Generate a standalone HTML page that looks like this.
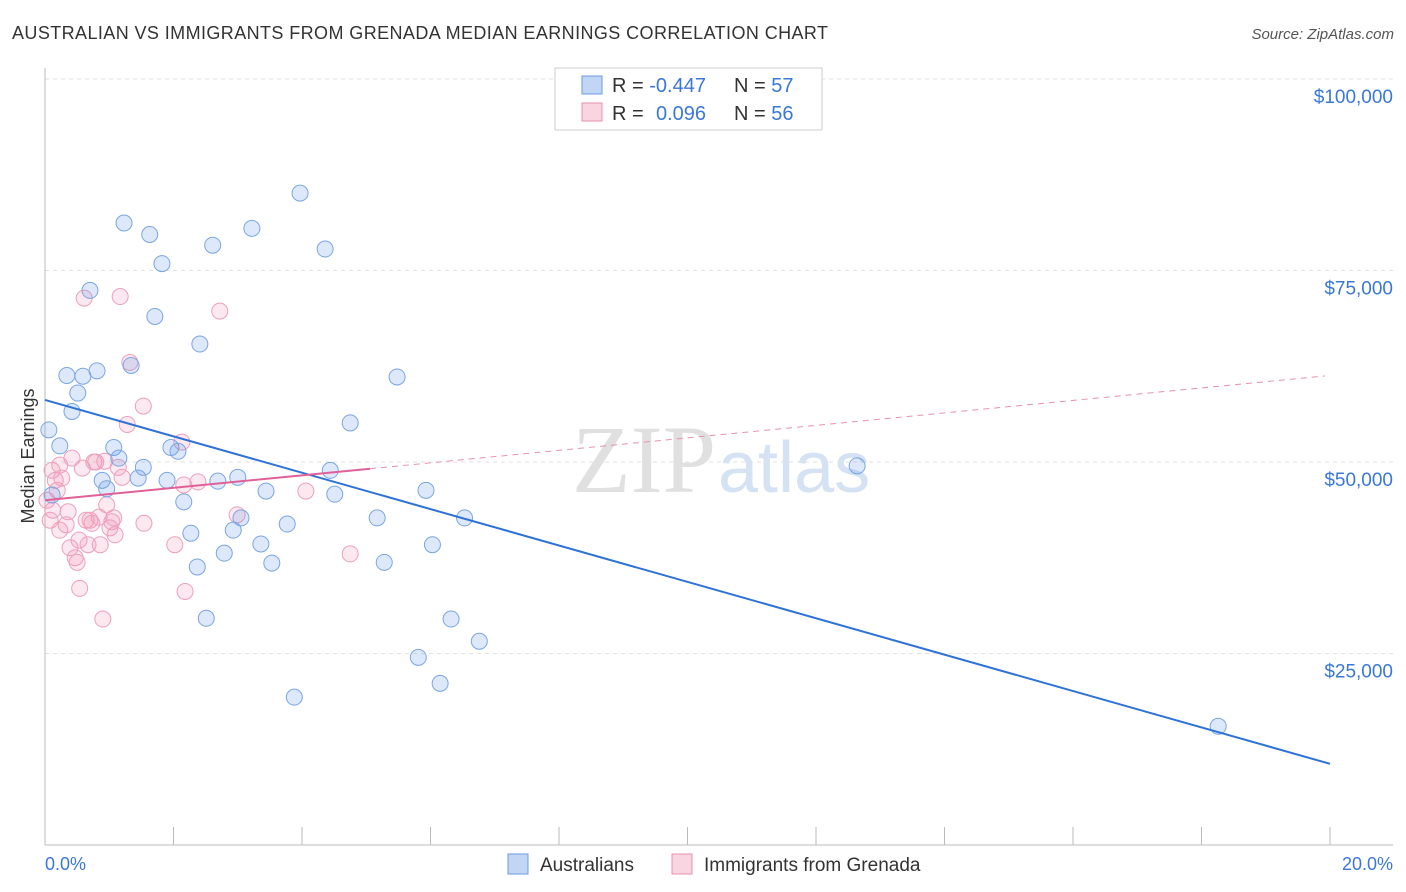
<!DOCTYPE html>
<html><head><meta charset="utf-8"><style>
body{margin:0;background:#fff;font-family:"Liberation Sans",sans-serif;}
svg{display:block}
</style></head><body>
<svg width="1406" height="892" viewBox="0 0 1406 892">
<text x="12" y="39" font-size="18" fill="#333" textLength="816">AUSTRALIAN VS IMMIGRANTS FROM GRENADA MEDIAN EARNINGS CORRELATION CHART</text>
<text x="1394" y="39" font-size="15" fill="#555" font-style="italic" text-anchor="end">Source: ZipAtlas.com</text>
<g id="grid"></g>
<text x="716" y="492" font-size="96" fill="#e0e0e0" text-anchor="end" font-family="Liberation Serif,serif">ZIP</text>
<text x="718" y="492" font-size="72" fill="#d4e2f3">atlas</text>
<g id="axes"></g>
<g id="pts"></g>
<g id="lines"></g>
<text x="34" y="456" font-size="18" fill="#333" text-anchor="middle" transform="rotate(-90 34 456)">Median Earnings</text>
<text x="45" y="870" font-size="18" fill="#3a78d8">0.0%</text>
<text x="1393" y="870" font-size="18" fill="#3a78d8" text-anchor="end">20.0%</text>
<g>
<rect x="555" y="68" width="267" height="62" fill="#fff" stroke="#ccc"/>
<rect x="582" y="76" width="20" height="18" fill="rgba(100,150,230,0.4)" stroke="#6a9de0"/>
<rect x="582" y="103" width="20" height="18" fill="rgba(240,150,180,0.4)" stroke="#e890b0"/>
<text x="612" y="92" font-size="20" fill="#333">R = <tspan fill="#3a78d8">-0.447</tspan><tspan x="734">N = </tspan><tspan fill="#3a78d8">57</tspan></text>
<text x="612" y="120" font-size="20" fill="#333">R = <tspan fill="#3a78d8" x="656">0.096</tspan><tspan x="734">N = </tspan><tspan fill="#3a78d8">56</tspan></text>
</g>
<g>
<rect x="508" y="854" width="20" height="20" fill="rgba(100,150,230,0.4)" stroke="#6a9de0"/>
<text x="540" y="871" font-size="19" fill="#333">Australians</text>
<rect x="672" y="854" width="20" height="20" fill="rgba(240,150,180,0.4)" stroke="#e890b0"/>
<text x="704" y="871" font-size="19" fill="#333">Immigrants from Grenada</text>
</g>
</svg>
<script>
const yTicks=[25000,50000,75000,100000];
const yTickLabels=["$25,000","$50,000","$75,000","$100,000"];
const xTicks=[0,2,4,6,8,10,12,14,16,18,20];
const blueX=[0.06,0.23,0.34,0.42,0.51,0.59,0.70,0.81,0.89,0.96,1.07,1.15,1.23,1.34,1.45,1.53,1.63,1.71,1.82,1.90,1.96,2.07,2.16,2.27,2.37,2.41,2.51,2.61,2.69,2.79,2.93,3.00,3.05,3.22,3.36,3.44,3.53,3.77,3.88,3.97,4.36,4.44,4.51,4.75,5.17,5.28,5.48,5.81,5.93,6.03,6.15,6.32,6.53,6.76,12.64,18.26,0.11];
const blueY=[54.2,52.1,61.3,56.6,59.0,61.2,72.4,61.9,47.6,46.5,51.9,50.5,81.2,62.6,47.9,49.3,79.7,69.0,75.9,47.6,51.9,51.4,44.8,40.7,36.3,65.4,29.6,78.3,47.5,38.1,41.1,48.0,42.7,80.5,39.3,46.2,36.8,41.9,19.3,85.1,77.8,48.9,45.8,55.1,42.7,36.9,61.1,24.5,46.3,39.2,21.1,29.5,42.7,26.6,49.5,15.5,45.7];
const pinkX=[0.03,0.08,0.11,0.16,0.19,0.23,0.26,0.33,0.36,0.39,0.42,0.47,0.50,0.54,0.58,0.61,0.64,0.67,0.70,0.73,0.76,0.79,0.84,0.90,0.93,0.96,1.01,1.04,1.07,1.14,1.17,1.20,1.28,1.32,1.53,1.54,2.02,2.13,2.16,2.18,2.38,2.72,2.99,4.06,4.75,0.53,0.23,0.12,1.09,0.86];
const pinkY=[45.0,42.4,48.9,47.6,46.3,41.1,47.9,41.8,43.5,38.8,50.5,37.5,36.9,33.5,49.2,71.4,42.4,39.2,42.4,42.0,50.0,50.0,42.8,29.5,50.1,44.4,41.4,42.2,42.7,49.3,71.6,48.0,54.9,63.0,57.3,42.0,39.2,52.6,47.0,33.1,47.4,69.7,43.1,46.2,38.0,39.8,49.6,43.7,40.5,39.2];
const blueTrend=[58.1,10.6];
const pinkTrend=[45.0,61.3];
const pinkSolidEnd=5.06;
const NS="http://www.w3.org/2000/svg";
const X=v=>45+v*64.25;
const Y=v=>845-v/25000*191.5;
const YK=v=>Y(v*1000);
function mk(t,a,p){const e=document.createElementNS(NS,t);for(const k in a)e.setAttribute(k,a[k]);p.appendChild(e);return e;}
const grid=document.getElementById('grid'),axes=document.getElementById('axes');
yTicks.forEach((t,i)=>{
 const l=mk('line',{x1:45,x2:1393,y1:Y(t),y2:Y(t),stroke:'#e2e2e2','stroke-dasharray':'4,4'},grid);
 
 
 const tx=mk('text',{x:1393,y:Y(t)+24,'font-size':19,fill:'#3a78d8','text-anchor':'end'},axes);
 tx.textContent=yTickLabels[i];
 
 
});
mk('line',{x1:45,x2:1393,y1:79,y2:79,stroke:'#e2e2e2','stroke-dasharray':'4,4'},grid);
mk('line',{x1:45,x2:45,y1:68,y2:845,stroke:'#bbb'},axes);
mk('line',{x1:45,x2:1393,y1:845,y2:845,stroke:'#bbb'},axes);
xTicks.forEach(t=>{
 const l=mk('line',{x1:X(t),x2:X(t),y1:827,y2:845,stroke:'#bbb'},axes);
 
 
});
const pts=document.getElementById('pts');
pinkX.forEach((x,i)=>{
 const c=mk('circle',{cx:X(x),cy:YK(pinkY[i]),r:8,fill:'rgba(240,150,180,0.22)',stroke:'#eda0bc','stroke-width':1},pts);
 
 
});
blueX.forEach((x,i)=>{
 const c=mk('circle',{cx:X(x),cy:YK(blueY[i]),r:8,fill:'rgba(100,150,230,0.22)',stroke:'#7aa6e2','stroke-width':1},pts);
 
 
});
const lines=document.getElementById('lines');
const pAt=x=>pinkTrend[0]+(pinkTrend[1]-pinkTrend[0])*x/20;
const b=mk('line',{x1:X(0),y1:YK(blueTrend[0]),x2:X(20),y2:YK(blueTrend[1]),stroke:'#2e72d8','stroke-width':2},lines);


const pd=mk('line',{x1:X(pinkSolidEnd),y1:YK(pAt(pinkSolidEnd)),x2:X(19.92),y2:YK(pAt(19.92)),stroke:'#e890b0','stroke-width':1,'stroke-dasharray':'6,5'},lines);


const ps=mk('line',{x1:X(0),y1:YK(pinkTrend[0]),x2:X(pinkSolidEnd),y2:YK(pAt(pinkSolidEnd)),stroke:'#e0609a','stroke-width':2},lines);


</script>
</body></html>
